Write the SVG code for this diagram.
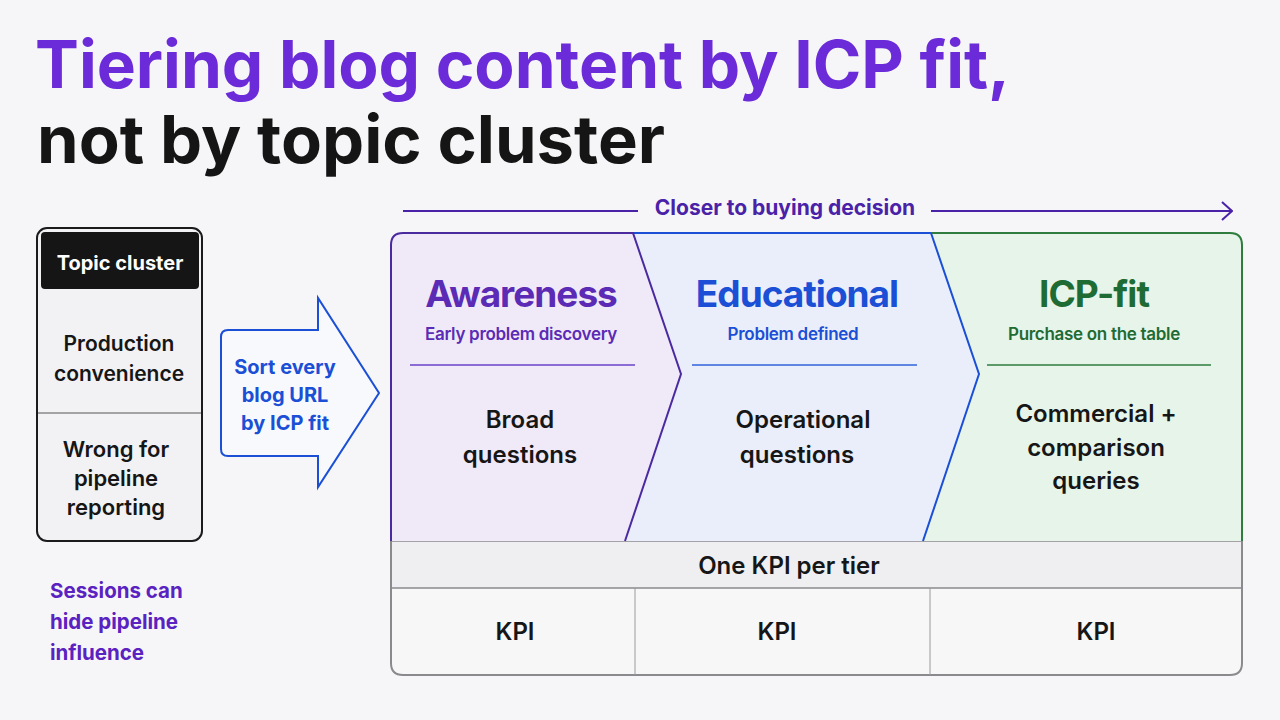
<svg xmlns="http://www.w3.org/2000/svg" width="1280" height="720" viewBox="0 0 1280 720">
<style>
text{font-family:Inter,"Liberation Sans",sans-serif;font-weight:700}
.c{text-anchor:middle}
.body{font-size:24px;fill:#161616;font-weight:600}
.sub{font-size:17px;font-weight:600;letter-spacing:-0.3px}
.tier{font-size:37px;letter-spacing:-1px}
</style>
<defs>
<marker id="ah" viewBox="0 0 12 20" refX="11" refY="10" markerWidth="12" markerHeight="20" markerUnits="userSpaceOnUse" orient="auto">
<path d="M1 1 L11 10 L1 19" fill="none" stroke="#4a22a8" stroke-width="2"/>
</marker>
</defs>
<rect width="1280" height="720" fill="#f6f6f8"/>
<g id="title">
<text x="35" y="88" font-size="66" fill="#6b2bd8" textLength="975" lengthAdjust="spacingAndGlyphs">Tiering blog content by ICP fit,</text>
<text x="37" y="163" font-size="66" fill="#151515" textLength="628" lengthAdjust="spacingAndGlyphs">not by topic cluster</text>
</g>
<g id="connectors">
<line x1="403" y1="211" x2="638" y2="211" stroke="#4a22a8" stroke-width="2"/>
<line x1="931" y1="211" x2="1232" y2="211" stroke="#4a22a8" stroke-width="2" marker-end="url(#ah)"/>
<text x="785" y="215" class="c" font-size="21" fill="#4a22a8" font-weight="600">Closer to buying decision</text>
</g>
<g id="topic-cluster">
<rect x="37" y="228" width="165" height="313" rx="10" fill="#f2f2f4" stroke="#1b1b1b" stroke-width="2"/>
<rect x="41" y="232" width="158" height="57" rx="4" fill="#151515"/>
<text x="120" y="270" class="c" font-size="20" fill="#ffffff" font-weight="600">Topic cluster</text>
<line x1="38" y1="413" x2="201" y2="413" stroke="#888" stroke-width="1.5"/>
<text x="119" y="351" class="c body" style="font-size:21px">Production</text>
<text x="119" y="381" class="c body" style="font-size:21px">convenience</text>
<text x="116" y="457" class="c body" style="font-size:22px">Wrong for</text>
<text x="116" y="486" class="c body" style="font-size:22px">pipeline</text>
<text x="116" y="515" class="c body" style="font-size:22px">reporting</text>
</g>
<g id="sort-arrow">
<path d="M228 330 L318 330 L318 298 L379 393 L318 487 L318 456 L228 456 Q221 456 221 449 L221 337 Q221 330 228 330 Z" fill="#f8f9fc" stroke="#1a4fd6" stroke-width="2" stroke-linejoin="miter"/>
<text x="285" y="374" class="c" font-size="20" fill="#1a4fd6" font-weight="600">Sort every</text>
<text x="285" y="402" class="c" font-size="20" fill="#1a4fd6" font-weight="600">blog URL</text>
<text x="285" y="430" class="c" font-size="20" fill="#1a4fd6" font-weight="600">by ICP fit</text>
</g>
<g id="sessions-note">
<text x="50" y="598" font-size="20.5" fill="#5a22c0" font-weight="600">Sessions can</text>
<text x="50" y="629" font-size="20.5" fill="#5a22c0" font-weight="600">hide pipeline</text>
<text x="50" y="660" font-size="20.5" fill="#5a22c0" font-weight="600">influence</text>
</g>
<g id="panel">
<path d="M391 541 L391 585 L391 663 Q391 675 403 675 L1230 675 Q1242 675 1242 663 L1242 541 Z" fill="#f7f7f8" stroke="#8a8a8e" stroke-width="2"/>
<rect x="392" y="541" width="849" height="47" fill="#efeff1"/>
<line x1="391" y1="541" x2="1242" y2="541" stroke="#8a8a8e" stroke-width="1.5"/>
<line x1="391" y1="588" x2="1242" y2="588" stroke="#8a8a8e" stroke-width="1.5"/>
<line x1="635" y1="588" x2="635" y2="675" stroke="#9a9a9e" stroke-width="1"/>
<line x1="930" y1="588" x2="930" y2="675" stroke="#9a9a9e" stroke-width="1"/>
<text x="789" y="574" class="c body">One KPI per tier</text>
<text x="515" y="640" class="c body">KPI</text>
<text x="777" y="640" class="c body">KPI</text>
<text x="1096" y="640" class="c body">KPI</text>
</g>
<g id="icp-fit">
<path d="M931 233 L1230 233 Q1242 233 1242 245 L1242 541 L923 541 L979 374 Z" fill="#e7f4e9"/>
<path d="M931 233 L1230 233 Q1242 233 1242 245 L1242 541" fill="none" stroke="#2e7d3e" stroke-width="2"/>
<text x="1094" y="307" class="c tier" fill="#1e6b34">ICP-fit</text>
<text x="1094" y="340" class="c sub" fill="#1e6b34">Purchase on the table</text>
<line x1="987" y1="365" x2="1211" y2="365" stroke="#2e7d3e" stroke-width="1.5"/>
<text x="1096" y="422" class="c body">Commercial +</text>
<text x="1096" y="456" class="c body">comparison</text>
<text x="1096" y="489" class="c body">queries</text>
</g>
<g id="educational">
<path d="M633 233 L931 233 L979 374 L923 541 L625 541 L681 374 Z" fill="#e9eefa"/>
<path d="M633 233 L931 233 M931 233 L979 374 L923 541" fill="none" stroke="#1a4fd6" stroke-width="2" stroke-linejoin="miter"/>
<text x="797" y="307" class="c tier" fill="#1a4fd6">Educational</text>
<text x="793" y="340" class="c sub" fill="#1a4fd6">Problem defined</text>
<line x1="692" y1="365" x2="917" y2="365" stroke="#2f62d8" stroke-width="1.5"/>
<text x="803" y="428" class="c body">Operational</text>
<text x="797" y="463" class="c body">questions</text>
</g>
<g id="awareness">
<path d="M403 233 L633 233 L681 374 L625 541 L391 541 L391 245 Q391 233 403 233 Z" fill="#f0eaf8"/>
<path d="M391 541 L391 245 Q391 233 403 233 L633 233 L681 374 L625 541" fill="none" stroke="#4b2aa0" stroke-width="2" stroke-linejoin="miter"/>
<text x="521" y="307" class="c tier" fill="#5b2bb5">Awareness</text>
<text x="521" y="340" class="c sub" fill="#5b2bb5">Early problem discovery</text>
<line x1="410" y1="365" x2="635" y2="365" stroke="#6a40c8" stroke-width="1.5"/>
<text x="520" y="428" class="c body">Broad</text>
<text x="520" y="463" class="c body">questions</text>
</g>
</svg>
